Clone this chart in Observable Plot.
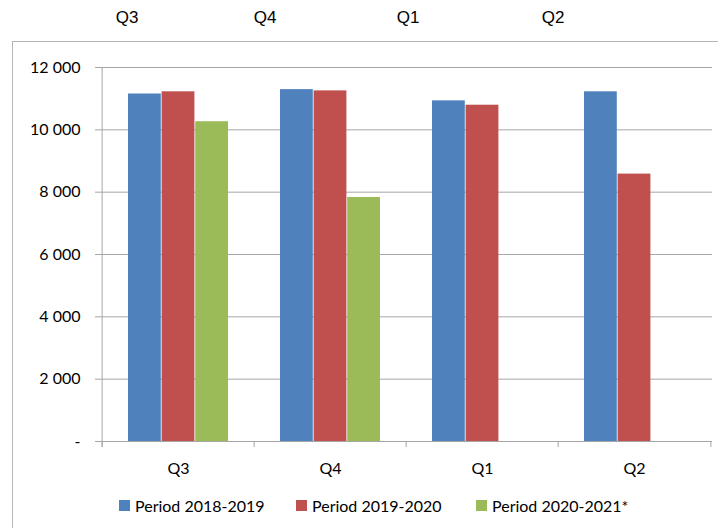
<!DOCTYPE html>
<html>
<head>
<meta charset="utf-8">
<script src="https://cdn.jsdelivr.net/npm/d3@7"></script>
<script src="https://cdn.jsdelivr.net/npm/@observablehq/plot@0.6"></script>
<style>
  html, body { margin: 0; padding: 0; background: #fff; }
  body { position: relative; width: 718px; height: 528px; overflow: hidden; font-family: Lato, "Open Sans", sans-serif; color: #000; }
  .hdr { position: absolute; top: 8px; transform: translateX(-50%); font-family: "Liberation Sans Narrow", "Liberation Sans", Arial, sans-serif; font-size: 17px; }
  #box { position: absolute; left: 12px; top: 41px; width: 720px; height: 500px; border-left: 1px solid #b5b5b5; border-top: 1px solid #b5b5b5; }
  #chart { position: absolute; left: 13px; top: 42px; }
  #chart svg text { fill: #000; }
  .lg { position: absolute; top: 496px; display: flex; align-items: center; font-size: 16px; white-space: nowrap; }
  .lg i { display: inline-block; width: 11px; height: 11px; margin-right: 5px; }
</style>
</head>
<body>
<div id="header"></div>
<div id="box"></div>
<div id="chart"></div>
<div id="legend"></div>
<script>
const quarters = ["Q3", "Q4", "Q1", "Q2"];
const headerLabels = ["Q3", "Q4", "Q1", "Q2"];
const seriesNames = ["Period 2018-2019", "Period 2019-2020", "Period 2020-2021*"];
const period2018 = [11150, 11290, 10930, 11220];
const period2019 = [11220, 11250, 10790, 8580];
const period2020 = [10260, 7830, null, null];
const seriesColors = ["#4F81BD", "#C0504D", "#9BBB59"];
const yTicks = [0, 2000, 4000, 6000, 8000, 10000, 12000];

// header row (stray labels above the chart box)
const headerX = [127, 265, 408, 553];
const header = document.getElementById("header");
headerLabels.forEach((t, i) => {
  const s = document.createElement("div");
  s.className = "hdr"; s.style.left = headerX[i] + "px"; s.textContent = t;
  header.appendChild(s);
});

const W = 705, H = 444, mL = 88, mR = 6, mT = 25, mB = 45;
const pIn = 0.34, pOut = 0.17;
const step = (W - mL - mR) / (quarters.length - pIn + 2 * pOut);
const bw = step * (1 - pIn);
const k = seriesNames.length;
const allSeries = [period2018, period2019, period2020];
const rows = allSeries.flatMap((vals, s) =>
  quarters.map((q, i) => ({quarter: q, series: seriesNames[s], s, value: vals[i]})).filter(d => d.value != null));
const yMax = yTicks[yTicks.length - 1];
const fmt = d => d === 0 ? "-" : d3.format(",")(d).replace(/,/g, " ");
const grid = "#a6a6a6";

const chart = Plot.plot({
  width: W, height: H,
  marginLeft: mL, marginRight: mR, marginTop: mT, marginBottom: mB,
  style: {fontFamily: "Lato, 'Open Sans', sans-serif", fontSize: "16px", color: grid, background: "transparent", overflow: "visible"},
  x: {domain: quarters, paddingInner: pIn, paddingOuter: pOut, tickSize: 0, tickPadding: 21, label: null},
  y: {domain: [0, yMax], ticks: yTicks, tickFormat: fmt, tickSize: 6, tickPadding: 15, label: null},
  marks: [
    Plot.ruleY(yTicks, {stroke: grid}),
    ...seriesNames.map((name, s) => Plot.barY(rows.filter(d => d.s === s), {
      x: "quarter", y: "value", fill: seriesColors[s],
      insetLeft: s * bw / k, insetRight: (k - 1 - s) * bw / k
    })),
    Plot.ruleX([quarters[0]], {x: d => d, y1: () => yMax, y2: () => 0, dx: -step / 2, insetBottom: -6, stroke: grid}),
    Plot.ruleX(quarters, {x: d => d, y1: () => 0, y2: () => 0, dx: -step / 2, insetBottom: -6, stroke: grid}),
    Plot.ruleX([quarters[quarters.length - 1]], {x: d => d, y1: () => 0, y2: () => 0, dx: step / 2, insetBottom: -6, stroke: grid})
  ]
});
document.getElementById("chart").appendChild(chart);

// legend
const legendX = [119, 296, 476];
const legend = document.getElementById("legend");
seriesNames.forEach((n, i) => {
  const d = document.createElement("div");
  d.className = "lg"; d.style.left = legendX[i] + "px";
  d.innerHTML = `<i style="background:${seriesColors[i]}"></i><span>${n}</span>`;
  legend.appendChild(d);
});
</script>
</body>
</html>
